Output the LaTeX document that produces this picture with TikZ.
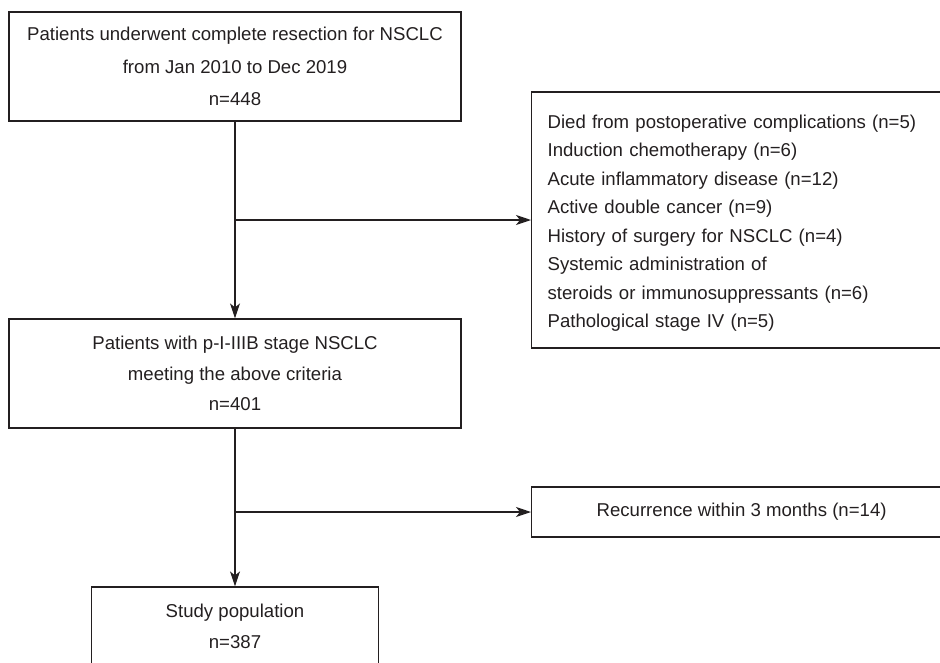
\documentclass[tikz,border=0pt]{standalone}
\usepackage{fontspec}
\setmainfont{Liberation Sans}
\usetikzlibrary{arrows.meta}
\definecolor{ink}{RGB}{35,31,32}
\begin{document}
\begin{tikzpicture}[x=1pt,y=-1pt,
  box/.style={draw=ink, line width=1.2pt, text=ink, rectangle, inner sep=0pt, align=center},
  arr/.style={draw=ink, line width=1.2pt, -{Stealth[length=15pt,width=10pt,inset=4pt]}},
  ln/.style={draw=ink, line width=1.2pt}]
\useasboundingbox (0,0) rectangle (940,662);
\node[box, minimum width=452pt, minimum height=109pt, font={\fontsize{18.6}{32.5}\selectfont}] (b1) at (235,66.5)
  {Patients underwent complete resection for NSCLC\\from Jan 2010 to Dec 2019\\n=448};
\node[box, anchor=west, minimum width=420pt, minimum height=256pt, text width=388pt, align=left, font={\fontsize{18.6}{28.5}\selectfont}] (ex1) at (531,220)
  {\rule{0pt}{19.6pt}Died from postoperative complications (n=5)\\
   Induction chemotherapy (n=6)\\
   Acute inflammatory disease (n=12)\\
   Active double cancer (n=9)\\
   History of surgery for NSCLC (n=4)\\
   Systemic administration of\\
   steroids or immunosuppressants (n=6)\\
   Pathological stage IV (n=5)};
\node[box, minimum width=452pt, minimum height=109pt, font={\fontsize{18.6}{30.5}\selectfont}] (b2) at (235,373.5)
  {Patients with p-I-IIIB stage NSCLC\\meeting the above criteria\\n=401};
\node[box, anchor=west, minimum width=420pt, minimum height=50pt, font={\fontsize{18.6}{22}\selectfont}] (ex2) at (531,512)
  {Recurrence within 3 months (n=14)};
\node[box, minimum width=287pt, minimum height=79pt, font={\fontsize{18.6}{30.7}\selectfont}] (b3) at (235,626.5)
  {Study population\\n=387};
\coordinate (j1) at (b1.south |- ex1.west);
\coordinate (j2) at (b2.south |- ex2.west);
\draw[arr] (b1.south) -- (b2.north);
\draw[arr] (j1) -- (ex1.west);
\draw[arr] (b2.south) -- (b3.north);
\draw[arr] (j2) -- (ex2.west);
\end{tikzpicture}
\end{document}
